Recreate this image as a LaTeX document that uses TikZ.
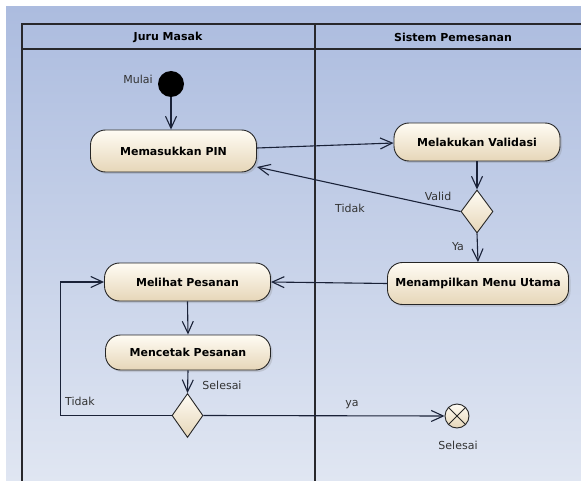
\documentclass[tikz,border=0pt]{standalone}
\usepackage{fontspec}
\setmainfont{DejaVu Sans}
\usepackage{tikz}
\usetikzlibrary{shapes.geometric, arrows.meta, shadows}
\usepackage{xcolor}

\definecolor{bgtop}{RGB}{172,188,223}
\definecolor{bgbot}{RGB}{224,230,242}
\definecolor{acttop}{RGB}{255,252,244}
\definecolor{actbot}{RGB}{230,214,184}
\definecolor{flowline}{RGB}{26,34,56}
\definecolor{laneline}{RGB}{40,40,44}

\begin{document}
\begin{tikzpicture}[x=1pt,y=-1pt,font=\fontsize{11}{13}\selectfont,
    lane/.style={draw=laneline,line width=1.3pt},
    activity/.style={draw=black!85,line width=0.9pt,rounded corners=15pt,top color=acttop,bottom color=actbot,
        font=\fontsize{11}{13}\selectfont\bfseries,minimum width=166pt,minimum height=39pt,
        drop shadow={opacity=0.25,shadow xshift=2pt,shadow yshift=-2pt}},
    decision/.style={diamond,draw=black!85,line width=0.9pt,top color=acttop,bottom color=actbot,
        minimum width=32pt,minimum height=43pt,inner sep=0pt},
    flow/.style={draw=flowline,line width=1.1pt,-{Straight Barb[length=12pt,width=11pt,line width=1.1pt]}},
    note/.style={text=black!80}]
    \useasboundingbox (0,0) rectangle (581,481);
    \fill[white] (0,0) rectangle (581,481);
    \shade[top color=bgtop,bottom color=bgbot] (6,7) rectangle (581,481);
    % swimlanes
    \draw[lane] (22,481) -- (22,24) -- (581,24);
    \draw[lane] (22,49) -- (581,49);
    \draw[lane] (315,24) -- (315,481);
    \node[font=\fontsize{11}{13}\selectfont\bfseries] (juru) at (168,37) {Juru Masak};
    \node[font=\fontsize{11}{13}\selectfont\bfseries] (sistem) at (453,37) {Sistem Pemesanan};
    % nodes
    \node[circle,fill=black,minimum size=26pt,inner sep=0pt] (start) at (171,84) {};
    \node[note] (mulai) at (138,79) {Mulai};
    \node[activity,minimum height=42pt] (pin) at (173.5,151) {Memasukkan PIN};
    \node[activity,minimum height=38pt] (valid) at (477,142) {Melakukan Validasi};
    \node[decision] (cek) at (477,211.5) {};
    \node[activity,minimum height=42pt,minimum width=181pt] (menu) at (478,283.5) {Menampilkan Menu Utama};
    \node[activity,minimum height=38pt] (lihat) at (187.5,282) {Melihat Pesanan};
    \node[activity,minimum height=35pt,minimum width=165pt] (cetak) at (188,352.5) {Mencetak Pesanan};
    \node[decision,minimum height=44pt,minimum width=31pt] (selesai) at (187.5,415.5) {};
    \node[circle,draw=black!85,line width=0.9pt,top color=acttop,bottom color=actbot,minimum size=24pt,inner sep=0pt] (end) at (457,416) {};
    \draw[black!85,line width=0.9pt] (end.north west) -- (end.south east) (end.north east) -- (end.south west);
    \node[note] (endlabel) at (458,445) {Selesai};
    % connectors
    \draw[flow] (start) -- (start |- pin.north);
    \draw[flow] ([yshift=3pt]pin.east) -- ([yshift=-1pt]valid.west);
    \draw[flow] (valid.south) -- (cek.north);
    \draw[flow] (cek.west) -- ([yshift=-16pt]pin.east);
    \node[note] (validlabel) at (438,196) {Valid};
    \node[note] (tidak1) at (350,208) {Tidak};
    \draw[flow] (cek.south) -- (menu.north);
    \node[note] (ya1) at (458,247) {Ya};
    \draw[flow] (menu.west) -- (lihat.east);
    \draw[flow] (lihat.south) -- (cetak.north);
    \draw[flow] (cetak.south) -- (selesai.north);
    \node[note] (selesailabel) at (222,385) {Selesai};
    \draw[flow] (selesai.east) -- (end.west);
    \node[note] (ya2) at (352,405) {ya};
    \draw[flow] (selesai.west) -| ([xshift=-44pt]lihat.west) -- (lihat.west);
    \node[note] (tidak2) at (80,401) {Tidak};
\end{tikzpicture}
\end{document}
